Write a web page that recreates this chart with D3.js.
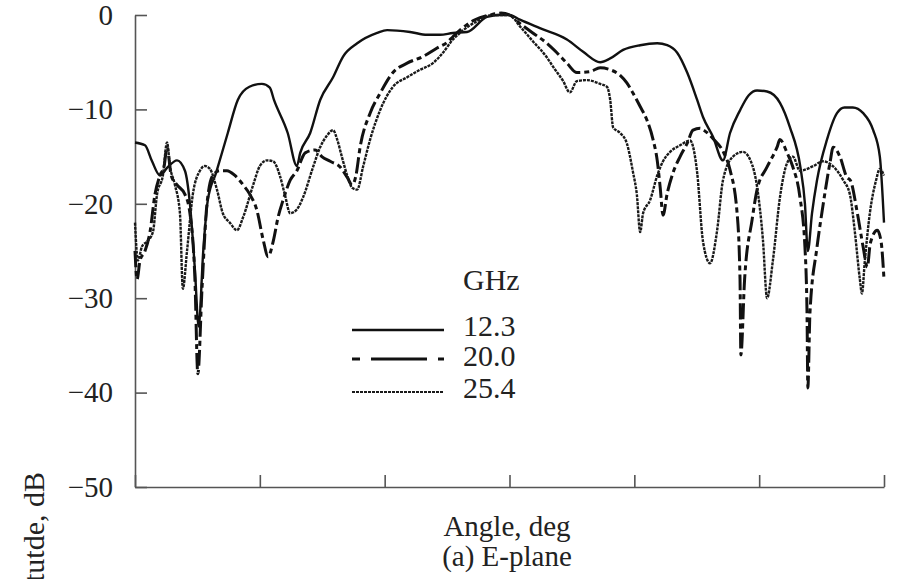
<html>
  <head>
    <meta charset="utf-8">
    <style>
      body { margin: 0; background: #fff; }
      svg { display: block; }
    </style>
    <script src="https://cdn.jsdelivr.net/npm/d3@7"></script>
  </head>
  <body>
    <div id="chart"></div>
    <script>
      // E-plane patterns, [angle deg, amplitude dB]
      const ghz123 = [[-90,-13.5],[-87.6,-13.8],[-85.9,-15.5],[-84,-17],[-82.3,-16.2],[-79.9,-15.4],[-78,-16.5],[-76.8,-20],[-75.6,-27],[-74.7,-33],[-73.6,-25],[-72.5,-19.6],[-70.5,-16.7],[-67.7,-12.5],[-65.3,-9],[-62.5,-7.6],[-59.5,-7.3],[-57.6,-7.7],[-56.6,-9],[-53.3,-12.5],[-51.1,-16],[-50.3,-14.6],[-47.9,-12.5],[-45.5,-9],[-42.4,-6.6],[-40,-4.4],[-36.6,-3],[-31.8,-1.9],[-29.4,-1.6],[-23.9,-1.8],[-19.8,-2.1],[-16.7,-2.1],[-13.6,-1.9],[-10.2,-1.8],[-5.4,-0.2],[-2.3,0],[0,0],[2.5,-0.5],[7.3,-1.4],[13.8,-2.6],[17.7,-3.9],[21.8,-5],[24.2,-4.6],[27.3,-3.7],[31.4,-3.2],[35.5,-3],[37.9,-3.2],[40.3,-4],[42.7,-6.1],[45.1,-9],[46.5,-10.8],[48.9,-12.9],[51.3,-15.4],[53,-12.5],[55.4,-10.1],[57.5,-8.5],[59.5,-8],[61.9,-8.1],[65,-9.3],[67.4,-11.9],[69.9,-16.1],[71,-20],[71.7,-25],[72.7,-21],[73.9,-17.5],[76.3,-13.2],[78.7,-10.4],[80.5,-9.8],[82.5,-9.8],[85,-10.4],[87.4,-12.2],[89,-15],[90,-22]];
      const ghz200 = [[-90,-25],[-89.5,-28],[-88.8,-26],[-87.6,-25],[-86.4,-23],[-85.2,-19],[-84,-17],[-83,-16],[-82.3,-14],[-81.3,-17],[-79.9,-18],[-78,-19],[-76.8,-21],[-75.6,-28],[-74.9,-38],[-73.9,-29],[-72.7,-20],[-71.3,-17],[-69.6,-16.5],[-67.9,-16.5],[-66,-17],[-64,-18],[-62.4,-19],[-60.7,-20.7],[-59.2,-23.8],[-58,-25.6],[-56.8,-24],[-55.6,-21.4],[-54.4,-19.6],[-52.7,-17.5],[-51.1,-16.5],[-49.1,-14.6],[-46.7,-14.3],[-45.1,-15],[-43.1,-15.5],[-40.7,-16.1],[-39,-17.2],[-37.8,-18],[-36.9,-17],[-35.9,-14],[-33.5,-10.4],[-31.1,-8.3],[-28,-6.1],[-24.6,-5.1],[-20.8,-4.4],[-17.4,-3.5],[-15,-2.9],[-13.6,-2.3],[-11.9,-1.6],[-8.3,-0.5],[-4.7,0],[-2,0.2],[0,0],[2.5,-0.9],[5.6,-1.9],[9,-3],[11.4,-4],[13.8,-5.1],[16.2,-6.1],[19.3,-6],[21.8,-5.6],[24.2,-5.8],[26.6,-6.4],[28.2,-7.2],[29.7,-8.3],[31.4,-9.7],[33,-11.1],[34.5,-13.2],[35.5,-15.4],[36.2,-18.2],[36.9,-21.2],[37.9,-18.9],[39.3,-16.7],[41,-15],[42.7,-13.6],[44.1,-12.2],[45.8,-12],[46.7,-12.2],[49.1,-13.2],[51.5,-14.6],[53,-16.4],[54.7,-21],[55.4,-28],[55.6,-36],[56.5,-28],[58.3,-21.7],[59.5,-18.5],[61.9,-16.1],[64.3,-14],[65,-13.2],[66.7,-14.6],[68.1,-16.1],[69.8,-19.3],[71,-24.6],[71.5,-31.6],[71.7,-39.5],[72.2,-31.6],[73.9,-24.6],[75.3,-20.3],[77,-15.7],[77.8,-14],[79.4,-15],[81.1,-17.2],[81.9,-17.5],[83.6,-21],[85,-24.6],[86,-26.7],[86.7,-24.2],[88.4,-22.8],[89.3,-24],[90,-28]];
      const ghz254 = [[-90,-22],[-89.3,-26],[-88.3,-24.5],[-87.1,-24],[-85.7,-23],[-84.7,-19],[-83.3,-17],[-82.3,-13.5],[-81.6,-16],[-80.4,-18],[-79.2,-21],[-78.5,-29],[-77.5,-25],[-76.1,-19],[-74.4,-16.5],[-73.2,-16],[-72,-16.3],[-70.3,-18.5],[-68.9,-21],[-67.2,-22],[-65.5,-22.8],[-64,-21.4],[-61.6,-18],[-60,-16],[-58.3,-15.4],[-56.8,-15.5],[-55.2,-17],[-54,-19],[-52.7,-21],[-51.1,-20.6],[-49.6,-19.3],[-47.2,-16.1],[-45.5,-14],[-43.9,-12.8],[-42.4,-12.2],[-41.4,-13.2],[-40.3,-15],[-39,-17],[-37.8,-18.3],[-36.6,-18.5],[-35.2,-16.1],[-33.5,-13.2],[-31.1,-10.1],[-28,-7.6],[-24.6,-6.6],[-21.5,-5.8],[-18.4,-5.1],[-16,-4],[-13.6,-2.6],[-11.9,-1.9],[-8,-0.7],[-4,0],[0,0],[2.5,-1.2],[5.65,-2.8],[9,-4.5],[10.5,-5.5],[12.9,-7],[14.5,-8.2],[16.2,-7],[18.6,-6.9],[21.8,-7.3],[23.4,-7.6],[24.2,-9],[24.9,-11.9],[26.6,-12.5],[28.2,-13.6],[29.7,-16.7],[30.6,-19],[31.4,-23],[32.1,-21],[33.8,-19.6],[35.5,-17],[36.9,-15.5],[38.6,-14.5],[41,-13.8],[43.4,-13.3],[45.1,-16.7],[46.5,-24],[48.2,-26.3],[49.9,-22.8],[51.3,-17.5],[53.7,-15],[56.1,-14.5],[57.9,-15.4],[59.5,-18.2],[60.9,-23.8],[61.9,-30],[63.3,-26],[65,-19.3],[66.7,-15.7],[68.1,-15],[69.8,-16.5],[73,-16],[75.3,-15.5],[77.7,-16],[80.2,-17.5],[81.8,-19],[83,-23],[84.2,-28],[84.7,-29.5],[85.4,-26],[86.6,-21],[88.1,-17.5],[89,-16.3],[90,-17]];

      const seriesNames = ["12.3", "20.0", "25.4"];
      const yTicks = [0, -10, -20, -30, -40, -50];
      const xTicks = [-90, -60, -30, 0, 30, 60, 90];

      const width = 897, height = 579;
      const font = "'Liberation Serif', 'Times New Roman', Tinos, 'DejaVu Serif', serif";
      const x = d3.scaleLinear().domain([-90, 90]).range([135, 884]);
      const y = d3.scaleLinear().domain([-50, 0]).range([487, 15]);

      const styles = [
        { stroke: "#111", width: 2.4, dash: null },
        { stroke: "#111", width: 3, dash: "16,4,5,4" },
        { stroke: "#1a1a1a", width: 2.4, dash: "3,1" },
      ];

      const svg = d3.select("#chart").append("svg")
        .attr("width", width).attr("height", height)
        .attr("viewBox", [0, 0, width, height]);

      // axes
      const yAxis = svg.append("g")
        .attr("transform", `translate(${x(-90)},0)`)
        .call(d3.axisLeft(y).tickValues(yTicks).tickSizeInner(-12).tickSizeOuter(0).tickPadding(22));
      const xAxis = svg.append("g")
        .attr("transform", `translate(0,${y(-50)})`)
        .call(d3.axisBottom(x).tickValues(xTicks).tickFormat("").tickSizeInner(-12).tickSizeOuter(0));
      [yAxis, xAxis].forEach((g) => {
        g.selectAll("path, line").attr("stroke", "#555").attr("stroke-width", 1.6);
      });
      yAxis.attr("font-family", font).attr("font-size", 29);
      yAxis.selectAll("text").attr("fill", "#222");

      const line = d3.line()
        .x((d) => x(d[0]))
        .y((d) => y(d[1]))
        .curve(d3.curveMonotoneX);

      [ghz123, ghz200, ghz254].forEach((data, i) => {
        svg.append("path")
          .datum(data)
          .attr("fill", "none")
          .attr("stroke", styles[i].stroke)
          .attr("stroke-width", styles[i].width)
          .attr("stroke-dasharray", styles[i].dash)
          .attr("stroke-linejoin", "round")
          .attr("d", line);
      });

      const label = (sel) => sel.attr("font-family", font).attr("font-size", 30).attr("fill", "#222");

      // legend
      const legend = svg.append("g");
      legend.append("text").attr("x", 463).attr("y", 290).call(label).text("GHz");
      const legY = [330, 359, 392];
      const txtY = [336, 366, 398];
      seriesNames.forEach((name, i) => {
        legend.append("line")
          .attr("x1", 352).attr("x2", 444)
          .attr("y1", legY[i]).attr("y2", legY[i])
          .attr("stroke", styles[i].stroke)
          .attr("stroke-width", i === 2 ? 1.8 : styles[i].width)
          .attr("stroke-dasharray", i === 1 ? "8,11,56,11" : styles[i].dash);
        legend.append("text").attr("x", 463).attr("y", txtY[i]).call(label).text(name);
      });

      // axis titles
      svg.append("text").attr("x", 507).attr("y", 536).attr("text-anchor", "middle")
        .call(label).attr("font-size", 29).text("Angle, deg");
      svg.append("text").attr("x", 507).attr("y", 566).attr("text-anchor", "middle")
        .call(label).attr("font-size", 29).text("(a) E-plane");
      svg.append("text")
        .attr("transform", "translate(44,472) rotate(-90)")
        .attr("text-anchor", "end")
        .call(label).text("Amplitutde, dB");
    </script>
  </body>
</html>
